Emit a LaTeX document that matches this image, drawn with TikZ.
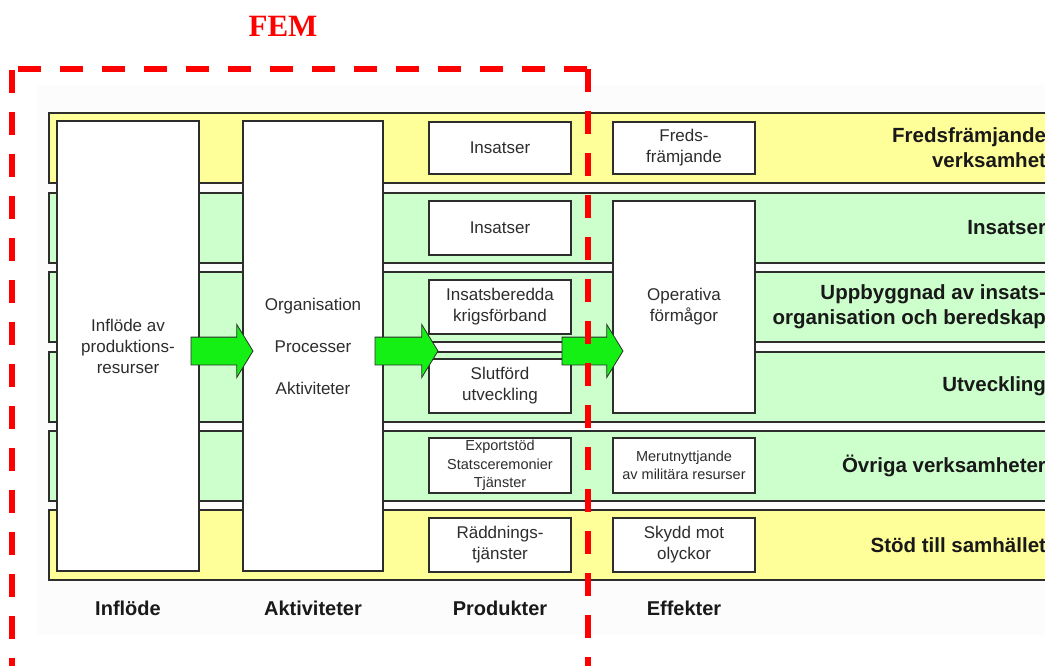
\documentclass[tikz,border=0pt]{standalone}
\usepackage{fontspec}
\setmainfont{Liberation Sans}
\newfontfamily\femserif{Liberation Serif}
\usetikzlibrary{shapes.arrows}

\definecolor{bandyellow}{RGB}{255,255,153}
\definecolor{bandgreen}{RGB}{204,255,204}
\definecolor{edge}{RGB}{45,45,45}
\definecolor{boxtext}{RGB}{45,45,45}
\definecolor{flowgreen}{RGB}{20,240,20}
\definecolor{femred}{RGB}{255,0,0}
\definecolor{panel}{RGB}{252,252,252}

\begin{document}
\begin{tikzpicture}[x=1pt,y=-1pt,
  every node/.style={inner sep=0pt, outer sep=0pt},
  band/.style={draw=edge, line width=1.4pt, rectangle, minimum width=1051pt, minimum height=70pt},
  yband/.style={band, fill=bandyellow},
  gband/.style={band, fill=bandgreen},
  colbox/.style={draw=edge, fill=white, line width=1.4pt, rectangle, text=boxtext,
    align=center, font=\fontsize{17}{21}\selectfont},
  smallbox/.style={colbox, font=\fontsize{14.5}{18.5}\selectfont},
  rowlabel/.style={anchor=east, align=right, text=black!90,
    font=\fontsize{20.5}{25}\selectfont\bfseries},
  collabel/.style={anchor=base, text=black!90, font=\fontsize{20}{24}\selectfont\bfseries},
  flow/.style={single arrow, draw=edge, line width=0.8pt, fill=flowgreen,
    minimum height=62pt, inner ysep=13.5pt, inner xsep=0pt,
    single arrow head extend=12.5pt, single arrow tip angle=117, anchor=tail},
  femline/.style={draw=femred, line width=5.3pt, dash pattern=on 23pt off 19pt}
]
\useasboundingbox (0,0) rectangle (1045,665);
\fill[panel] (37,85) rectangle (1045,635);

% horizontal activity bands
\node[yband] (rowpeace)   at (574.5,148) {};
\node[gband] (rowops)     at (574.5,228) {};
\node[gband] (rowbuild)   at (574.5,307) {};
\node[gband] (rowdev)     at (574.5,387) {};
\node[gband] (rowother)   at (574.5,466) {};
\node[yband] (rowsociety) at (574.5,545) {};

% full-height columns
\node[colbox, minimum width=142pt, minimum height=450pt] (inflow) at (128,346)
  {Inflöde av\\produktions-\\resurser};
\node[colbox, minimum width=140pt, minimum height=450pt] (activity) at (313,346)
  {Organisation\\[21pt]Processer\\[21pt]Aktiviteter};

% products
\node[colbox, minimum width=142pt, minimum height=52pt] (pPeace) at (500,148) {Insatser};
\node[colbox, minimum width=142pt, minimum height=54pt] (pOps) at (500,228) {Insatser};
\node[colbox, minimum width=142pt, minimum height=54pt] (pBuild) at (500,307)
  {Insatsberedda\\krigsförband};
\node[colbox, minimum width=142pt, minimum height=54pt] (pDev) at (500,386)
  {Slutförd\\utveckling};
\node[smallbox, minimum width=142pt, minimum height=55pt] (pOther) at (500,465.5)
  {Exportstöd\\Statsceremonier\\Tjänster};
\node[colbox, minimum width=142pt, minimum height=54pt] (pSociety) at (500,545)
  {Räddnings-\\tjänster};

% effects
\node[colbox, minimum width=142pt, minimum height=52pt] (ePeace) at (684,148)
  {Freds-\\främjande};
\node[colbox, minimum width=142pt, minimum height=212pt] (eOps) at (684,307)
  {Operativa\\förmågor};
\node[smallbox, minimum width=142pt, minimum height=55pt] (eOther) at (684,465.5)
  {Merutnyttjande\\av militära resurser};
\node[colbox, minimum width=142pt, minimum height=54pt] (eSociety) at (684,545)
  {Skydd mot\\olyckor};

% flow arrows
\node[flow] (flow1) at (191,351) {};
\node[flow, minimum height=63pt] (flow2) at (375,351) {};
\node[flow, minimum height=61pt] (flow3) at (562,351) {};

% band labels
\node[rowlabel] (lPeace)   at (1046,148) {Fredsfrämjande\\verksamhet};
\node[rowlabel] (lOps)     at (1046,228) {Insatser};
\node[rowlabel] (lBuild)   at (1046,307) {Uppbyggnad av insats-\\organisation och beredskap};
\node[rowlabel] (lDev)     at (1046,386) {Utveckling};
\node[rowlabel] (lOther)   at (1046,466) {Övriga verksamheter};
\node[rowlabel] (lSociety) at (1046,545) {Stöd till samhället};

% column captions
\node[collabel] (cIn)   at (128,615) {Inflöde};
\node[collabel] (cAct)  at (313,615) {Aktiviteter};
\node[collabel] (cProd) at (500,615) {Produkter};
\node[collabel] (cEff)  at (684,615) {Effekter};

% FEM frame
\node[anchor=base, text=femred, font=\fontsize{31}{31}\femserif\bfseries] (fem) at (283,36) {FEM};
\draw[femline] (12,70) -- (12,700);
\draw[femline] (18,69) -- (588,69);
\draw[femline] (588,69) -- (588,700);
\end{tikzpicture}
\end{document}
